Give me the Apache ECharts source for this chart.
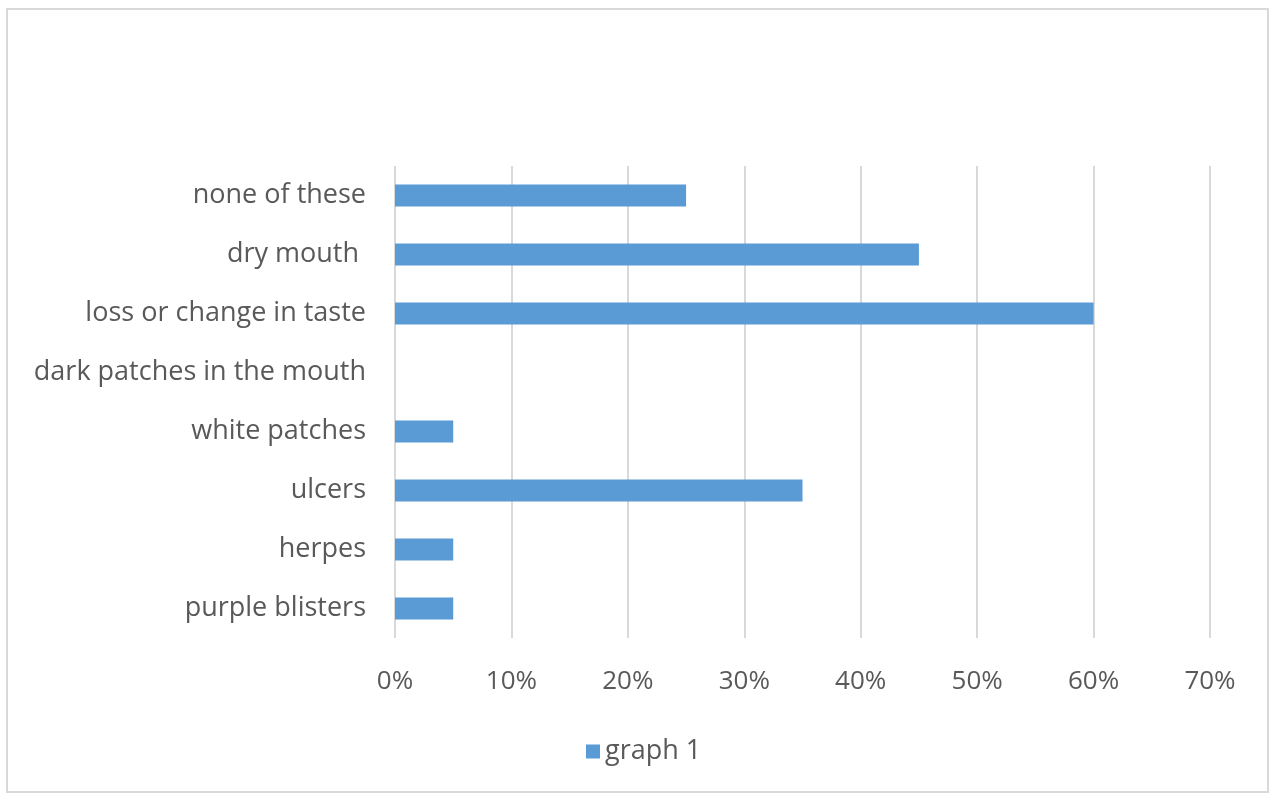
<!DOCTYPE html>
<html>
<head>
<meta charset="utf-8">
<script src="https://cdn.jsdelivr.net/npm/echarts@6/dist/echarts.min.js"></script>
<style>
  html, body { margin: 0; padding: 0; background: #fff; }
  #chart { width: 1271px; height: 795px; }
</style>
</head>
<body>
<div id="chart"></div>
<script>
// categories top to bottom
const categories = [
  'none of these',
  'dry mouth ',
  'loss or change in taste',
  'dark patches in the mouth',
  'white patches',
  'ulcers',
  'herpes',
  'purple blisters'
];
const values = [0.25, 0.45, 0.60, 0, 0.05, 0.35, 0.05, 0.05];
const seriesName = 'graph 1';

const font = '"Open Sans", "Liberation Sans", sans-serif';
const textColor = '#595959';

const chart = echarts.init(document.getElementById('chart'));
chart.setOption({
  animation: false,
  textStyle: { fontFamily: font },
  graphic: [{
    type: 'rect',
    shape: { x: 7, y: 9, width: 1261, height: 783 },
    style: { fill: 'none', stroke: '#d9d9d9', lineWidth: 2 },
    silent: true
  }],
  grid: { left: 395, right: 61, top: 166, bottom: 157 },
  legend: {
    data: [seriesName],
    top: 733,
    left: 581,
    itemWidth: 14,
    itemHeight: 14,
    itemGap: 15,
    icon: 'rect',
    textStyle: { fontSize: 27, color: textColor, fontFamily: font, padding: [4, 0, 0, 0] }
  },
  xAxis: {
    type: 'value',
    min: 0,
    max: 0.7,
    interval: 0.1,
    axisLine: { show: false },
    axisTick: { show: false },
    splitLine: { lineStyle: { color: '#d9d9d9', width: 2 } },
    axisLabel: {
      margin: 31,
      fontSize: 26,
      color: textColor,
      fontFamily: font,
      formatter: v => Math.round(v * 100) + '%'
    }
  },
  yAxis: {
    type: 'category',
    data: categories,
    inverse: true,
    axisLine: { show: false },
    axisTick: { show: false },
    axisLabel: { margin: 29, fontSize: 27, color: textColor, fontFamily: font, padding: [10, 0, 0, 0] }
  },
  series: [{
    name: seriesName,
    type: 'bar',
    data: values,
    barWidth: '37%',
    itemStyle: { color: '#5b9bd5' }
  }]
});
</script>
</body>
</html>
